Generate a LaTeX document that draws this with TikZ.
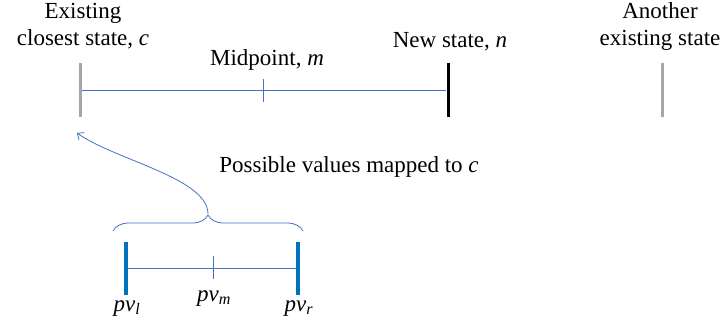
\documentclass[tikz,border=0pt]{standalone}
\usepackage{fontspec}
\setmainfont{Liberation Serif}
\usetikzlibrary{arrows.meta,positioning,decorations.pathreplacing}
\definecolor{LineBlue}{HTML}{4472C4}
\definecolor{MarkBlue}{HTML}{0070C0}
\definecolor{StateGray}{HTML}{A6A6A6}
\tikzset{
  statemark/.style={fill=#1,inner sep=0pt,minimum width=3pt,minimum height=54pt},
  pvmark/.style={fill=MarkBlue,inner sep=0pt,minimum width=3.5pt,minimum height=53pt},
  midtick/.style={fill=LineBlue,inner sep=0pt,minimum width=1pt,minimum height=23pt},
  label/.style={inner sep=0pt,anchor=base,align=center},
  span/.style={draw=LineBlue,line width=0.8pt}
}
\begin{document}
\begin{tikzpicture}[x=1pt,y=-1pt,font=\fontsize{23}{27}\selectfont]
\useasboundingbox (0,0) rectangle (722,324);
% states on the upper line
\node[statemark=StateGray] (c) at (80,90) {};
\node[statemark=black] (n) at (448,90) {};
\node[statemark=StateGray] (o) at (662,90) {};
\node[midtick] (m) at (263,90) {};
\draw[span] (c) -- (n);
\node[label] (cl) at (83,45) {Existing\\closest state, \textit{c}};
\node[label] (ml) at (267,65) {Midpoint, \textit{m}};
\node[label] (nl) at (450,47) {New state, \textit{n}};
\node[label] (ol) at (660,45) {Another\\existing state};
% possible values interval
\node[pvmark] (pl) at (126,268) {};
\node[pvmark] (pr) at (298,268) {};
\node[midtick] (pm) at (213,267) {};
\draw[span] (pl) -- (pr);
\node[label] (pll) at (127,311) {\textit{pv}\textsubscript{\textit{l}}};
\node[label] (pml) at (214,301) {\textit{pv}\textsubscript{\textit{m}}};
\node[label] (prl) at (299,311) {\textit{pv}\textsubscript{\textit{r}}};
% brace and mapping arrow
\coordinate (bl) at (113,231);
\coordinate (br) at (303,231);
\coordinate (tip) at (208,214);
\coordinate (ct) at (77,133);
\draw[LineBlue,line width=0.8pt,decorate,decoration={brace,amplitude=16pt}] (bl) -- (br);
\draw[LineBlue,line width=0.8pt,-{Straight Barb[length=5pt,width=9pt]}] (tip) .. controls (208,178) and (115,160) .. (ct);
\node[label] (map) at (349,172) {Possible values mapped to \textit{c}};
\end{tikzpicture}
\end{document}
